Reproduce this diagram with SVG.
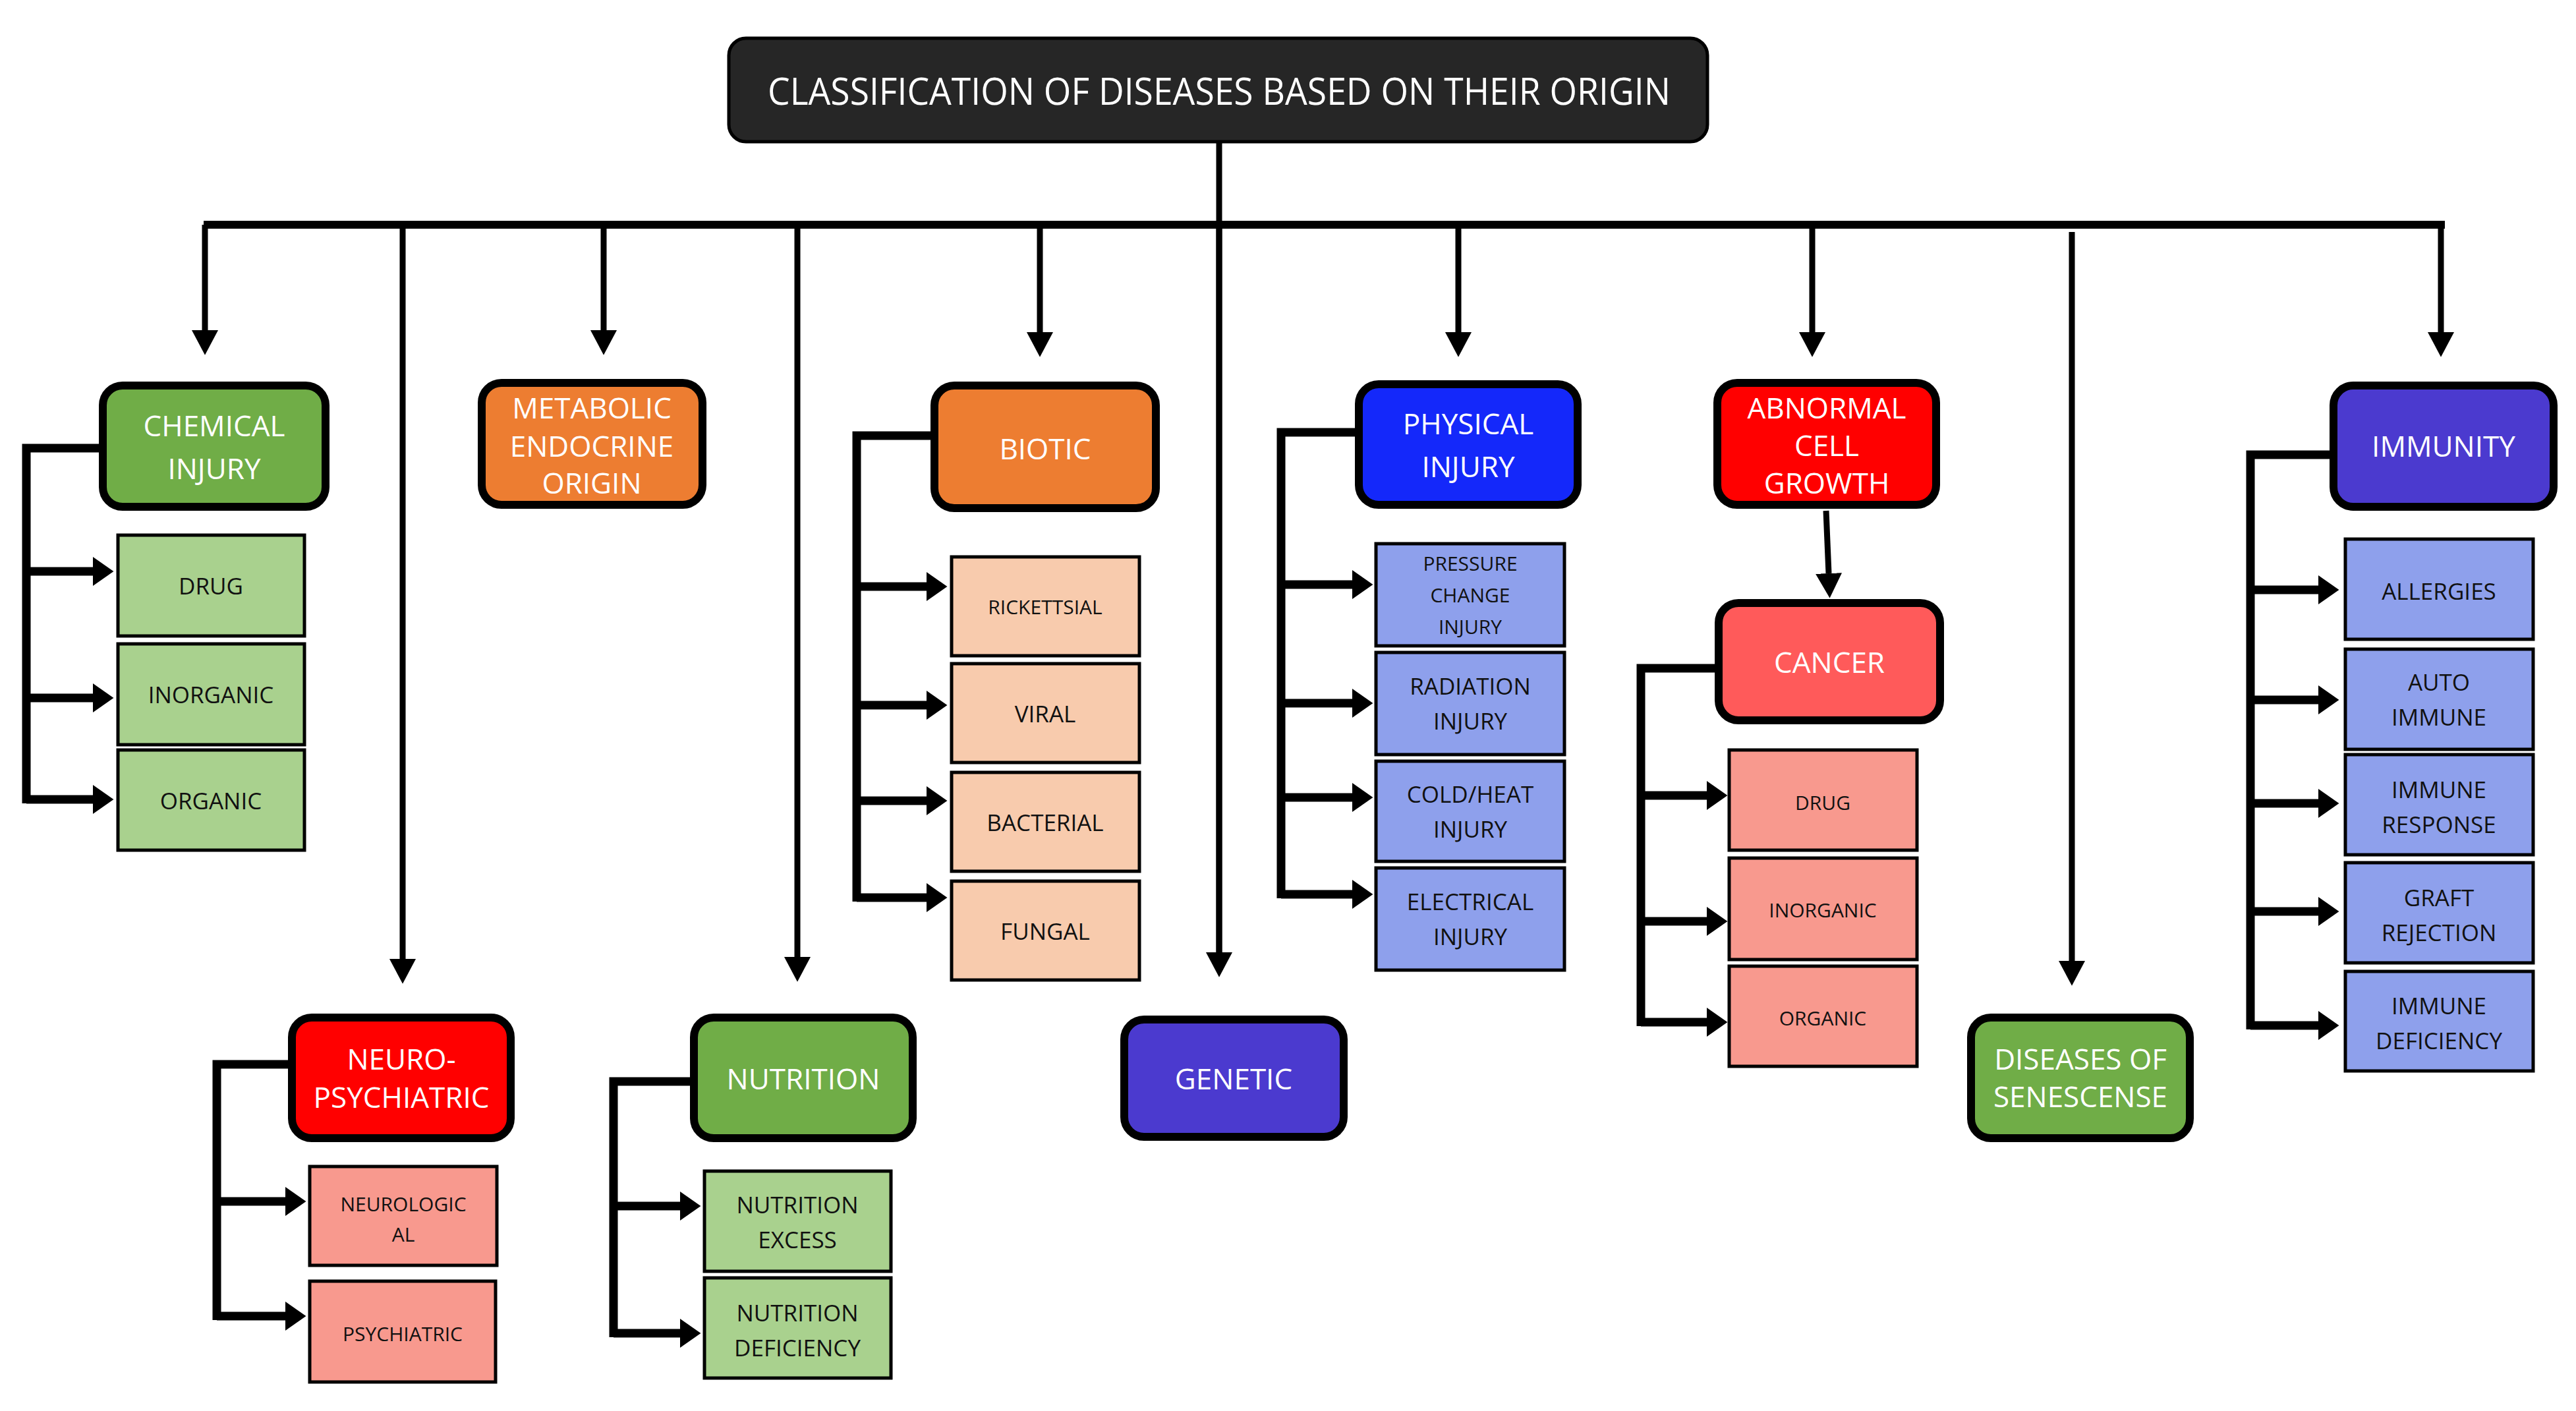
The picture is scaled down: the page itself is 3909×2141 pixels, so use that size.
<svg xmlns="http://www.w3.org/2000/svg" width="3909" height="2141" viewBox="0 0 3909 2141">
<style>
text{font-family:"Open Sans","Liberation Sans",sans-serif;text-anchor:middle;dominant-baseline:central}
.n{stroke:#000;stroke-width:12}
.c{stroke:#000;stroke-width:5}
.nt{fill:#fff;font-size:44px}
.ct{fill:#111;font-size:35px}
.cs{fill:#111;font-size:30px}
.d{fill:none;stroke:#000;stroke-width:9;marker-end:url(#a)}
.b{fill:none;stroke:#000;stroke-width:13}
.ba{fill:none;stroke:#000;stroke-width:13;marker-end:url(#ab)}
</style>
<defs>
<marker id="a" markerUnits="userSpaceOnUse" markerWidth="40" markerHeight="40" refX="0" refY="17" orient="auto" viewBox="0 0 34 34"><path d="M0,0 L32,17 L0,34 z" fill="#000"/></marker>
<marker id="ab" markerUnits="userSpaceOnUse" markerWidth="40" markerHeight="44" refX="0" refY="21" orient="auto" viewBox="0 0 32 42"><path d="M0,0 L30,21 L0,42 z" fill="#000"/></marker>
</defs>
<rect width="3909" height="2141" fill="#fff"/>
<g id="connectors">
<path class="d" d="M1850 215 V1445" style="marker-end:none"/>
<path class="d" d="M1850 341 V1445"/>
<path d="M309 341 H3710" stroke="#000" stroke-width="12" fill="none"/>
<path class="d" d="M311 341 V501"/>
<path class="d" d="M611 341 V1455"/>
<path class="d" d="M916 341 V501"/>
<path class="d" d="M1210 341 V1452"/>
<path class="d" d="M1578 341 V504"/>
<path class="d" d="M2213 341 V504"/>
<path class="d" d="M2750 341 V504"/>
<path class="d" d="M3144 352 V1458"/>
<path class="d" d="M3704 341 V504"/>
<path class="d" d="M2771 775 L2775 870"/>
<path class="b" d="M150 680 H40 V1219"/>
<path class="ba" d="M40 867 H141"/><path class="ba" d="M40 1059 H141"/><path class="ba" d="M40 1213 H141"/>
<path class="b" d="M1412 661 H1300 V1368"/>
<path class="ba" d="M1300 890 H1406"/><path class="ba" d="M1300 1070 H1406"/><path class="ba" d="M1300 1215 H1406"/><path class="ba" d="M1300 1362 H1406"/>
<path class="b" d="M2056 656 H1944 V1363"/>
<path class="ba" d="M1944 887 H2052"/><path class="ba" d="M1944 1067 H2052"/><path class="ba" d="M1944 1210 H2052"/><path class="ba" d="M1944 1357 H2052"/>
<path class="b" d="M2602 1014 H2490 V1557"/>
<path class="ba" d="M2490 1207 H2590"/><path class="ba" d="M2490 1398 H2590"/><path class="ba" d="M2490 1551 H2590"/>
<path class="b" d="M3535 690 H3415 V1562"/>
<path class="ba" d="M3415 895 H3518"/><path class="ba" d="M3415 1062 H3518"/><path class="ba" d="M3415 1219 H3518"/><path class="ba" d="M3415 1383 H3518"/><path class="ba" d="M3415 1556 H3518"/>
<path class="b" d="M437 1615 H329 V2003"/>
<path class="ba" d="M329 1823 H433"/><path class="ba" d="M329 1997 H433"/>
<path class="b" d="M1047 1641 H931 V2029"/>
<path class="ba" d="M931 1830 H1032"/><path class="ba" d="M931 2023 H1032"/>
</g>
<g id="title"><rect x="1106" y="58" width="1485" height="157" rx="26" fill="#262626" stroke="#000" stroke-width="5"/><text x="1850" y="137" fill="#fff" font-size="56" textLength="1370" lengthAdjust="spacingAndGlyphs">CLASSIFICATION OF DISEASES BASED ON THEIR ORIGIN</text></g>
<g id="chemical"><rect class="n" x="156" y="585" width="338" height="184" rx="30" fill="#70AD47"/><text class="nt" x="325" y="645">CHEMICAL</text><text class="nt" x="325" y="710">INJURY</text></g>
<g id="metabolic"><rect class="n" x="731" y="581" width="335" height="185" rx="30" fill="#ED7D31"/><text class="nt" x="898" y="618">METABOLIC</text><text class="nt" x="898" y="676">ENDOCRINE</text><text class="nt" x="898" y="732">ORIGIN</text></g>
<g id="biotic"><rect class="n" x="1418" y="585" width="336" height="186" rx="30" fill="#ED7D31"/><text class="nt" x="1586" y="680">BIOTIC</text></g>
<g id="physical"><rect class="n" x="2062" y="583" width="332" height="183" rx="30" fill="#1428FA"/><text class="nt" x="2228" y="642">PHYSICAL</text><text class="nt" x="2228" y="707">INJURY</text></g>
<g id="abnormal"><rect class="n" x="2606" y="581" width="332" height="185" rx="30" fill="#FF0000"/><text class="nt" x="2772" y="618">ABNORMAL</text><text class="nt" x="2772" y="675">CELL</text><text class="nt" x="2772" y="732">GROWTH</text></g>
<g id="immunity"><rect class="n" x="3541" y="585" width="334" height="184" rx="30" fill="#4B3ACF"/><text class="nt" x="3708" y="676">IMMUNITY</text></g>
<g id="cancer"><rect class="n" x="2608" y="915" width="336" height="178" rx="30" fill="#FF5A5A"/><text class="nt" x="2776" y="1004">CANCER</text></g>
<g id="neuro"><rect class="n" x="443" y="1544" width="332" height="183" rx="30" fill="#FF0000"/><text class="nt" x="609" y="1606">NEURO-</text><text class="nt" x="609" y="1664">PSYCHIATRIC</text></g>
<g id="nutrition"><rect class="n" x="1053" y="1544" width="332" height="183" rx="30" fill="#70AD47"/><text class="nt" x="1219" y="1636">NUTRITION</text></g>
<g id="genetic"><rect class="n" x="1706" y="1547" width="333" height="178" rx="30" fill="#4B3ACF"/><text class="nt" x="1872" y="1636">GENETIC</text></g>
<g id="senescence"><rect class="n" x="2991" y="1544" width="332" height="183" rx="30" fill="#70AD47"/><text class="nt" x="3157" y="1606">DISEASES OF</text><text class="nt" x="3157" y="1663">SENESCENSE</text></g>
<g id="chem-drug"><rect class="c" x="179" y="812" width="283" height="153" fill="#A9D18E"/><text class="ct" x="320" y="888">DRUG</text></g>
<g id="chem-inorganic"><rect class="c" x="179" y="977" width="283" height="153" fill="#A9D18E"/><text class="ct" x="320" y="1053">INORGANIC</text></g>
<g id="chem-organic"><rect class="c" x="179" y="1138" width="283" height="152" fill="#A9D18E"/><text class="ct" x="320" y="1214">ORGANIC</text></g>
<g id="rickettsial"><rect class="c" x="1444" y="845" width="285" height="150" fill="#F8CBAD"/><text class="cs" x="1586" y="920">RICKETTSIAL</text></g>
<g id="viral"><rect class="c" x="1444" y="1007" width="285" height="150" fill="#F8CBAD"/><text class="ct" x="1586" y="1082">VIRAL</text></g>
<g id="bacterial"><rect class="c" x="1444" y="1172" width="285" height="150" fill="#F8CBAD"/><text class="ct" x="1586" y="1247">BACTERIAL</text></g>
<g id="fungal"><rect class="c" x="1444" y="1337" width="285" height="150" fill="#F8CBAD"/><text class="ct" x="1586" y="1412">FUNGAL</text></g>
<g id="pressure"><rect class="c" x="2088" y="825" width="286" height="155" fill="#8EA0EC"/><text class="cs" x="2231" y="854">PRESSURE</text><text class="cs" x="2231" y="902">CHANGE</text><text class="cs" x="2231" y="950">INJURY</text></g>
<g id="radiation"><rect class="c" x="2088" y="990" width="286" height="155" fill="#8EA0EC"/><text class="ct" x="2231" y="1040">RADIATION</text><text class="ct" x="2231" y="1093">INJURY</text></g>
<g id="coldheat"><rect class="c" x="2088" y="1155" width="286" height="152" fill="#8EA0EC"/><text class="ct" x="2231" y="1204">COLD/HEAT</text><text class="ct" x="2231" y="1257">INJURY</text></g>
<g id="electrical"><rect class="c" x="2088" y="1317" width="286" height="155" fill="#8EA0EC"/><text class="ct" x="2231" y="1367">ELECTRICAL</text><text class="ct" x="2231" y="1420">INJURY</text></g>
<g id="cancer-drug"><rect class="c" x="2624" y="1138" width="285" height="152" fill="#F8998E"/><text class="cs" x="2766" y="1217">DRUG</text></g>
<g id="cancer-inorganic"><rect class="c" x="2624" y="1302" width="285" height="154" fill="#F8998E"/><text class="cs" x="2766" y="1380">INORGANIC</text></g>
<g id="cancer-organic"><rect class="c" x="2624" y="1466" width="285" height="152" fill="#F8998E"/><text class="cs" x="2766" y="1544">ORGANIC</text></g>
<g id="allergies"><rect class="c" x="3559" y="818" width="285" height="152" fill="#8EA0EC"/><text class="ct" x="3701" y="896">ALLERGIES</text></g>
<g id="autoimmune"><rect class="c" x="3559" y="985" width="285" height="152" fill="#8EA0EC"/><text class="ct" x="3701" y="1034">AUTO</text><text class="ct" x="3701" y="1087">IMMUNE</text></g>
<g id="immuneresponse"><rect class="c" x="3559" y="1145" width="285" height="152" fill="#8EA0EC"/><text class="ct" x="3701" y="1197">IMMUNE</text><text class="ct" x="3701" y="1250">RESPONSE</text></g>
<g id="graft"><rect class="c" x="3559" y="1309" width="285" height="152" fill="#8EA0EC"/><text class="ct" x="3701" y="1361">GRAFT</text><text class="ct" x="3701" y="1414">REJECTION</text></g>
<g id="immunedeficiency"><rect class="c" x="3559" y="1474" width="285" height="151" fill="#8EA0EC"/><text class="ct" x="3701" y="1525">IMMUNE</text><text class="ct" x="3701" y="1578">DEFICIENCY</text></g>
<g id="neurological"><rect class="c" x="470" y="1770" width="284" height="150" fill="#F8998E"/><text class="cs" x="612" y="1826">NEUROLOGIC</text><text class="cs" x="612" y="1872">AL</text></g>
<g id="psychiatric"><rect class="c" x="470" y="1944" width="282" height="153" fill="#F8998E"/><text class="cs" x="611" y="2023">PSYCHIATRIC</text></g>
<g id="nutritionexcess"><rect class="c" x="1069" y="1777" width="283" height="152" fill="#A9D18E"/><text class="ct" x="1210" y="1827">NUTRITION</text><text class="ct" x="1210" y="1880">EXCESS</text></g>
<g id="nutritiondeficiency"><rect class="c" x="1069" y="1939" width="283" height="152" fill="#A9D18E"/><text class="ct" x="1210" y="1991">NUTRITION</text><text class="ct" x="1210" y="2044">DEFICIENCY</text></g>
</svg>
